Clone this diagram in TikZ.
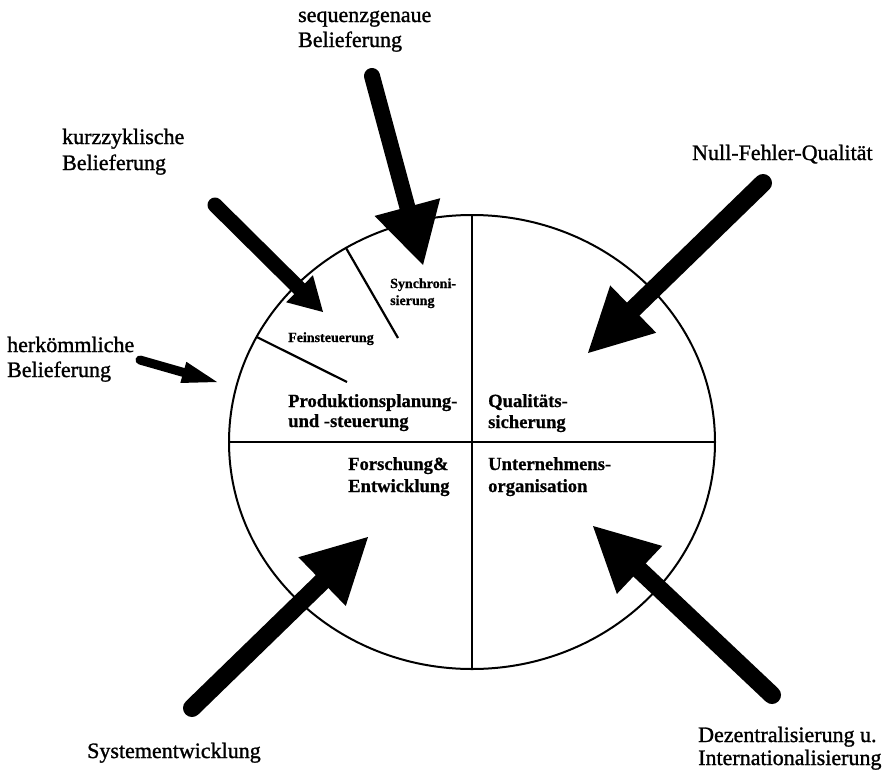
\documentclass[tikz,border=0pt]{standalone}
\usepackage{fontspec}
\setmainfont{Liberation Serif}
\newfontfamily\scanserif[FakeBold=1.2]{Liberation Serif}
\newfontfamily\scanbold[BoldFeatures={FakeBold=0.8}]{Liberation Serif}
\usetikzlibrary{calc,shapes.geometric}
\tikzset{
  lab/.style={inner sep=0pt, anchor=base west, font=\scanserif\fontsize{22}{26}\selectfont},
  sect/.style={inner sep=0pt, anchor=base west, font=\scanbold\fontsize{18.6}{22}\selectfont\bfseries},
  subsect/.style={inner sep=0pt, anchor=base west, font=\scanbold\fontsize{14}{17}\selectfont\bfseries},
  rim/.style={ellipse, draw, line width=2pt, inner sep=0pt, outer sep=0pt},
  divider/.style={line width=2.2pt},
  shaftline/.style={line cap=round, draw=black},
  headfill/.style={fill=black},
}
\newcommand\fatarrow[5]{%
  \coordinate (#1-base) at ($(#2)!#4!(#1)$);
  \draw[shaftline, line width=#3] (#1) -- (#1-base);
  \fill[headfill] (#2) -- ($(#1-base)!#5!90:(#2)$) -- ($(#1-base)!#5!-90:(#2)$) -- cycle;
}
\begin{document}
\begin{tikzpicture}[x=1pt,y=-1pt]
\path[fill=white] (0,0) rectangle (894,771);
\node[rim, minimum width=486pt, minimum height=454pt] (wheel) at (472,442) {};
\draw[divider] (wheel.west) -- (wheel.east);
\draw[divider] (wheel.north) -- (wheel.south);
\coordinate (d1) at (398,338);
\coordinate (d2) at (347,382);
\draw[divider] (wheel.123.9) -- (d1);
\draw[divider] (wheel.154.8) -- (d2);

\node[lab] (seq1) at (298,22) {sequenzgenaue};
\node[lab] (seq2) at (298,47) {Belieferung};
\node[lab] (kurz1) at (62,144) {kurzzyklische};
\node[lab] (kurz2) at (62,170) {Belieferung};
\node[lab] (herk1) at (7,352) {herkömmliche};
\node[lab] (herk2) at (7,377) {Belieferung};
\node[lab] (null) at (692,160) {Null-Fehler-Qualität};
\node[lab] (sys) at (87,758) {Systementwicklung};
\node[lab] (dez1) at (698,742) {Dezentralisierung u.};
\node[lab] (dez2) at (698,765) {Internationalisierung};
\node[sect] (pps1) at (288,407) {Produktionsplanung-};
\node[sect] (pps2) at (288,427) {und -steuerung};
\node[sect] (qs1) at (488,407) {Qualitäts-};
\node[sect] (qs2) at (488,428) {sicherung};
\node[sect] (fe1) at (348,470) {Forschung\&};
\node[sect] (fe2) at (348,492) {Entwicklung};
\node[sect] (uo1) at (488,470) {Unternehmens-};
\node[sect] (uo2) at (488,492) {organisation};
\node[subsect] (syn1) at (390,288) {Synchroni-};
\node[subsect] (syn2) at (390,305) {sierung};
\node[subsect] (fein) at (288,342) {Feinsteuerung};

\coordinate (seqT) at (372,76);  \coordinate (seqP) at (423,265);
\coordinate (kurzT) at (215,205); \coordinate (kurzP) at (323,312);
\coordinate (herkT) at (140,360); \coordinate (herkP) at (217,382);
\coordinate (nullT) at (763,183); \coordinate (nullP) at (588,353);
\coordinate (sysT) at (192,708);  \coordinate (sysP) at (368,537);
\coordinate (dezT) at (772,695);  \coordinate (dezP) at (593,526);
\fatarrow{seqT}{seqP}{16pt}{60pt}{34pt}
\fatarrow{kurzT}{kurzP}{15pt}{33pt}{19pt}
\fatarrow{herkT}{herkP}{9pt}{35pt}{11pt}
\fatarrow{nullT}{nullP}{18pt}{63pt}{33pt}
\fatarrow{sysT}{sysP}{18pt}{64pt}{34pt}
\fatarrow{dezT}{dezP}{18pt}{64pt}{33pt}
\end{tikzpicture}
\end{document}
